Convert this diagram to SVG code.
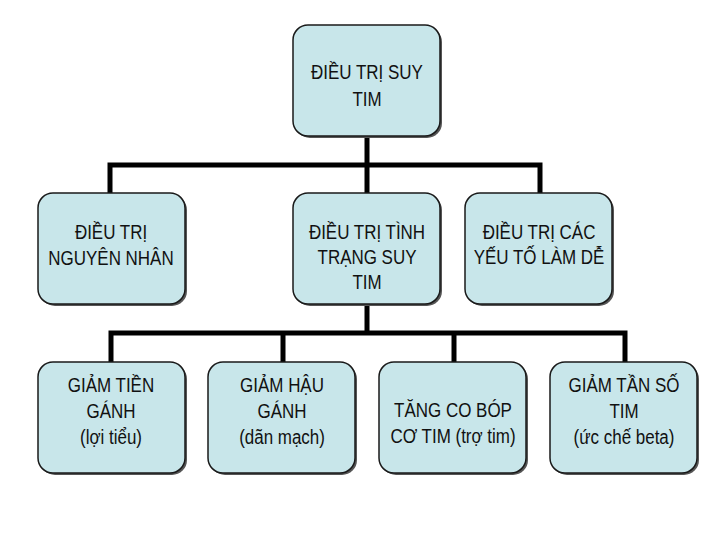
<svg xmlns="http://www.w3.org/2000/svg" width="720" height="540" viewBox="0 0 720 540">
<style>
.box{fill:#c8e6ea;stroke:#1a1a1a;stroke-width:1.5}
.sh{fill:#555555}
.t{font-family:"Liberation Sans",Arial,sans-serif;font-size:19.5px;fill:#111111;text-anchor:middle}
.c{fill:none;stroke:#000000;stroke-width:5}
</style>
<rect width="720" height="540" fill="#ffffff"/>
<g id="connectors">
<path class="c" d="M367 137 V165 M110 193 V165 H540 V193 M367 165 V193"/>
<path class="c" d="M367 305 V333 M111 362 V333 H625 V362 M283 333 V362 M454 333 V362"/>
</g>
<g id="n-root">
<rect class="sh" x="295" y="27" width="147" height="111" rx="15"/>
<rect class="box" x="293" y="25" width="147" height="111" rx="15"/>
<g transform="translate(367 0) scale(0.87 1)">
<text class="t" x="0" y="79">ĐIỀU TRỊ SUY</text>
<text class="t" x="0" y="106">TIM</text>
</g>
</g>
<g id="n-nguyennhan">
<rect class="sh" x="40" y="195" width="147" height="111" rx="15"/>
<rect class="box" x="38" y="193" width="147" height="111" rx="15"/>
<g transform="translate(111 0) scale(0.87 1)">
<text class="t" x="0" y="239">ĐIỀU TRỊ</text>
<text class="t" x="0" y="265">NGUYÊN NHÂN</text>
</g>
</g>
<g id="n-tinhtrang">
<rect class="sh" x="295" y="195" width="147" height="111" rx="15"/>
<rect class="box" x="293" y="193" width="147" height="111" rx="15"/>
<g transform="translate(367 0) scale(0.87 1)">
<text class="t" x="0" y="239">ĐIỀU TRỊ TÌNH</text>
<text class="t" x="0" y="264">TRẠNG SUY</text>
<text class="t" x="0" y="289">TIM</text>
</g>
</g>
<g id="n-yeuto">
<rect class="sh" x="467" y="195" width="147" height="111" rx="15"/>
<rect class="box" x="465" y="193" width="147" height="111" rx="15"/>
<g transform="translate(539 0) scale(0.87 1)">
<text class="t" x="0" y="239">ĐIỀU TRỊ CÁC</text>
<text class="t" x="0" y="264">YẾU TỐ LÀM DỄ</text>
</g>
</g>
<g id="n-tiengan">
<rect class="sh" x="40" y="364" width="147" height="111" rx="15"/>
<rect class="box" x="38" y="362" width="147" height="111" rx="15"/>
<g transform="translate(111 0) scale(0.87 1)">
<text class="t" x="0" y="392">GIẢM TIỀN</text>
<text class="t" x="0" y="418">GÁNH</text>
<text class="t" x="0" y="444">(lợi tiểu)</text>
</g>
</g>
<g id="n-haugan">
<rect class="sh" x="210" y="364" width="147" height="111" rx="15"/>
<rect class="box" x="208" y="362" width="147" height="111" rx="15"/>
<g transform="translate(282 0) scale(0.87 1)">
<text class="t" x="0" y="392">GIẢM HẬU</text>
<text class="t" x="0" y="418">GÁNH</text>
<text class="t" x="0" y="444">(dãn mạch)</text>
</g>
</g>
<g id="n-cobop">
<rect class="sh" x="381" y="364" width="147" height="111" rx="15"/>
<rect class="box" x="379" y="362" width="147" height="111" rx="15"/>
<g transform="translate(453 0) scale(0.87 1)">
<text class="t" x="0" y="417">TĂNG CO BÓP</text>
<text class="t" x="0" y="443">CƠ TIM (trợ tim)</text>
</g>
</g>
<g id="n-tanso">
<rect class="sh" x="552" y="364" width="147" height="111" rx="15"/>
<rect class="box" x="550" y="362" width="147" height="111" rx="15"/>
<g transform="translate(624 0) scale(0.87 1)">
<text class="t" x="0" y="392">GIẢM TẦN SỐ</text>
<text class="t" x="0" y="418">TIM</text>
<text class="t" x="0" y="444">(ức chế beta)</text>
</g>
</g>
</svg>
